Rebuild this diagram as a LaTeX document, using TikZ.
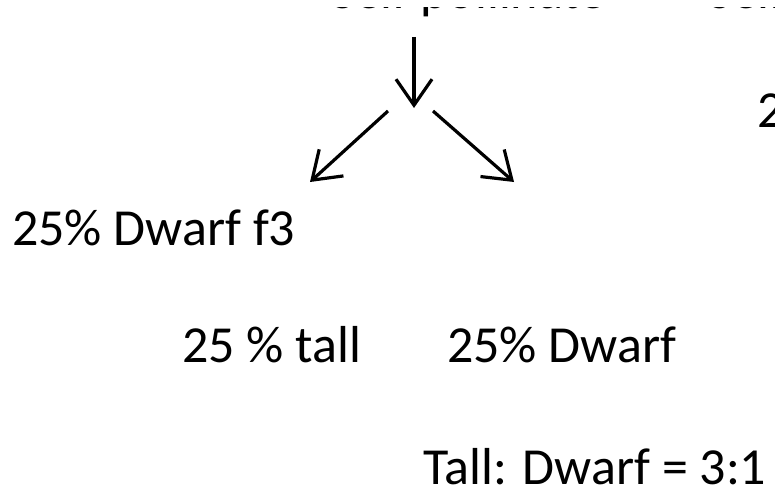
\documentclass[tikz,border=0pt]{standalone}
\usepackage{fontspec}
\setmainfont{Carlito}
\usetikzlibrary{arrows.meta}
\begin{document}
\begin{tikzpicture}[x=1pt,y=-1pt,
  lbl/.style={inner sep=0pt,anchor=base west,font=\fontsize{52}{62}\selectfont},
  arr/.style={line width=3.2pt,-{Straight Barb[length=26pt,width=36pt,line width=3.2pt]}}]
\useasboundingbox (0,0) rectangle (775,492);
\clip (0,0) rectangle (775,492);
\node[lbl] (t1) at (331,9) {Self pollinate};
\node[lbl] (t2) at (708,9) {Self pollinate};
\fill[white] (-1,-30) rectangle (776,7.5);
\node[lbl] (r2) at (757,127) {25\% Tall};
\node[lbl] (d3) at (12,245) {25\% Dwarf f3};
\node[lbl] (tl) at (182,362) {25 \% tall};
\node[lbl] (dw) at (447,362) {25\% Dwarf};
\node[lbl] (ra) at (423,484) {Tall: Dwarf = 3:1};
\coordinate (a0) at (414,37);
\coordinate (a1) at (414,108);
\coordinate (b0) at (388,111);
\coordinate (b1) at (310,182);
\coordinate (c0) at (433,111);
\coordinate (c1) at (514,182);
\draw[arr] (a0) -- (a1);
\draw[arr] (b0) -- (b1);
\draw[arr] (c0) -- (c1);
\end{tikzpicture}
\end{document}
